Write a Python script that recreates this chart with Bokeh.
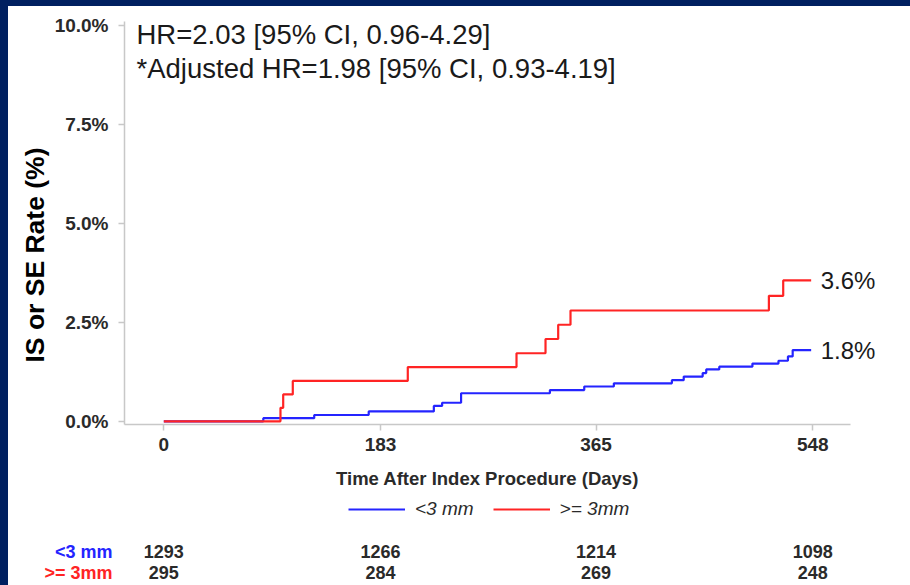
from bokeh.plotting import figure
from bokeh.models import (Range1d, FixedTicker, PrintfTickFormatter, Legend, LegendItem,
                          Label, Title, Div)
from bokeh.layouts import column, row
from bokeh.core.properties import value
from bokeh.embed import file_html
from bokeh.resources import INLINE

# ---------------- data ----------------
groups = ["<3 mm", ">= 3mm"]

# cumulative IS/SE rate (%) step curves; last entry = end of follow-up
lt3_days = [0, 84, 127, 173, 228, 235, 251, 326, 355, 380, 429, 439, 455, 458, 469, 497, 519, 527, 531, 546.6]
lt3_rate = [0, 0.08, 0.16, 0.25, 0.39, 0.47, 0.71, 0.79, 0.88, 0.96, 1.04, 1.13, 1.22, 1.31, 1.38, 1.46, 1.53, 1.64, 1.80, 1.80]

ge3_days = [0, 98.5, 100.8, 108.9, 206.0, 297.8, 322.3, 333.0, 343.4, 510.9, 523.0, 546.6]
ge3_rate = [0, 0.34, 0.68, 1.02, 1.37, 1.72, 2.08, 2.44, 2.80, 3.17, 3.56, 3.56]

x_ticks = [0, 183, 365, 548]
y_ticks = [0, 2.5, 5.0, 7.5, 10.0]

risk_lt3 = [1293, 1266, 1214, 1098]
risk_ge3 = [295, 284, 269, 248]

hr_lines = ["HR=2.03 [95% CI, 0.96-4.29]", "*Adjusted HR=1.98 [95% CI, 0.93-4.19]"]
x_title = "Time After Index Procedure (Days)"
y_title = "IS or SE Rate (%)"

# ---------------- style / layout ----------------
FONT = "Liberation Sans"
NAVY = "#002060"
BLUE = "#2424ff"
RED = "#ff2424"
AXC = "#c8c8c8"
TXT = "#2a2a2a"

OFFX, OFFY = 8, 6            # navy frame (page px)
W = 910 - OFFX
FL, FR_AX, FR = 124, 850, 895  # page x: frame left, axis end, frame right
FT, FB = 21, 424               # page y: frame top, frame bottom
X0 = -33.2
PPX = 1.1843                   # px per day
Y0, Y1 = -0.08, 10.1

ML = FL - OFFX
MR = 910 - FR
MT = FT - OFFY
fh = FB - FT
MB = 40
H1 = MT + fh + MB
X1 = X0 + (FR - FL) / PPX
X_AX_END = X0 + (FR_AX - FL) / PPX
PPY = fh / (Y1 - Y0)


def xd(px):  # page x -> data x (days)
    return X0 + (px - FL) / PPX


def yd(py):  # page y -> data y (%)
    return Y0 + (FB - py) / PPY


p = figure(width=W, height=H1, x_range=Range1d(X0, X1), y_range=Range1d(Y0, Y1),
           output_backend="svg", toolbar_location=None,
           min_border_left=ML, min_border_right=MR, min_border_top=MT, min_border_bottom=MB,
           background_fill_color="white", border_fill_color="white")
p.outline_line_color = None
p.grid.visible = False

for ax in (p.xaxis[0], p.yaxis[0]):
    ax.axis_line_color = AXC
    ax.axis_line_width = 1.5
    ax.major_tick_line_color = AXC
    ax.major_tick_line_width = 1.5
    ax.major_tick_out = 6
    ax.major_tick_in = 0
    ax.minor_tick_line_color = None
    ax.major_label_text_font = FONT
    ax.major_label_text_font_style = "bold"
    ax.major_label_text_font_size = "19px"
    ax.major_label_text_color = TXT

p.xaxis.ticker = FixedTicker(ticks=x_ticks)
p.xaxis.bounds = (X0, X_AX_END)
p.yaxis.ticker = FixedTicker(ticks=y_ticks)
p.yaxis.formatter = PrintfTickFormatter(format="%.1f%%")
p.xaxis.major_label_standoff = 7
p.yaxis.major_label_standoff = 10

ylab = Title(text=y_title, align="left", offset=FB - 362, text_font=FONT,
             text_font_style="bold", text_font_size="26.5px", text_color="black", standoff=4)
p.add_layout(ylab, "left")

rb = p.step(lt3_days, lt3_rate, mode="after", line_color=BLUE, line_width=2.2)
rr = p.step(ge3_days, ge3_rate, mode="after", line_color=RED, line_width=2.2)

# HR annotation
for i, t in enumerate(hr_lines):
    p.add_layout(Label(x=xd(136), y=yd(34 + 34 * i), text=t, text_font=FONT,
                       text_font_size="27.5px", text_color="#1a1a1a",
                       text_align="left", text_baseline="middle"))

# end-of-curve labels
for days, rate in ((lt3_days, lt3_rate), (ge3_days, ge3_rate)):
    p.add_layout(Label(x=days[-1] + 8, y=rate[-1], text=f"{rate[-1]:.1f}%", text_font=FONT,
                       text_font_size="24px", text_color="#1a1a1a",
                       text_align="left", text_baseline="middle"))

# ---------------- bottom strip: axis title, legend, number at risk ----------------
TOP2 = OFFY + H1
H2 = 585 - TOP2
q = figure(width=W, height=H2, x_range=Range1d(xd(OFFX), xd(910)), y_range=Range1d(585, TOP2),
           output_backend="svg", toolbar_location=None, x_axis_type=None, y_axis_type=None,
           min_border_left=0, min_border_right=0, min_border_top=0, min_border_bottom=0,
           background_fill_color="white", border_fill_color="white")
q.outline_line_color = None
q.grid.visible = False

q.text(x=[(X0 + X_AX_END) / 2], y=[478], text=[x_title], text_font=value(FONT),
       text_font_style="bold", text_font_size="18.5px", text_color=TXT,
       text_align="center", text_baseline="middle")

nan = float("nan")
lb = q.line([x_ticks[0], x_ticks[1]], [nan, nan], line_color=BLUE, line_width=2.2)
lr = q.line([x_ticks[0], x_ticks[1]], [nan, nan], line_color=RED, line_width=2.2)
legend = Legend(items=[LegendItem(label=groups[0], renderers=[lb]),
                       LegendItem(label=groups[1], renderers=[lr])],
                orientation="horizontal",
                location=(348 - OFFX, 585 - 520),
                glyph_width=57, glyph_height=20, label_standoff=10, spacing=19,
                label_text_font=FONT, label_text_font_style="italic",
                label_text_font_size="19px", label_text_color=TXT,
                border_line_color=None, background_fill_alpha=0, margin=0, padding=0)
q.add_layout(legend, "center")

for k, (counts, col, py) in enumerate(((risk_lt3, BLUE, 551), (risk_ge3, RED, 572))):
    q.text(x=x_ticks, y=[py] * len(x_ticks), text=[str(c) for c in counts],
           text_font=value(FONT), text_font_style="bold", text_font_size="18px",
           text_color=TXT, text_align="center", text_baseline="middle")
    q.text(x=[xd(112)], y=[py], text=[groups[k]], text_font=value(FONT),
           text_font_style="bold", text_font_size="18px", text_color=col,
           text_align="right", text_baseline="middle")

top = Div(width=910, height=OFFY, margin=0, styles={"background-color": NAVY})
left1 = Div(width=OFFX, height=H1, margin=0, styles={"background-color": NAVY})
left2 = Div(width=OFFX, height=H2, margin=0, styles={"background-color": NAVY})
layout = column(top, row(left1, p, spacing=0), row(left2, q, spacing=0), spacing=0)

open("out.html", "w").write(file_html(layout, INLINE))
